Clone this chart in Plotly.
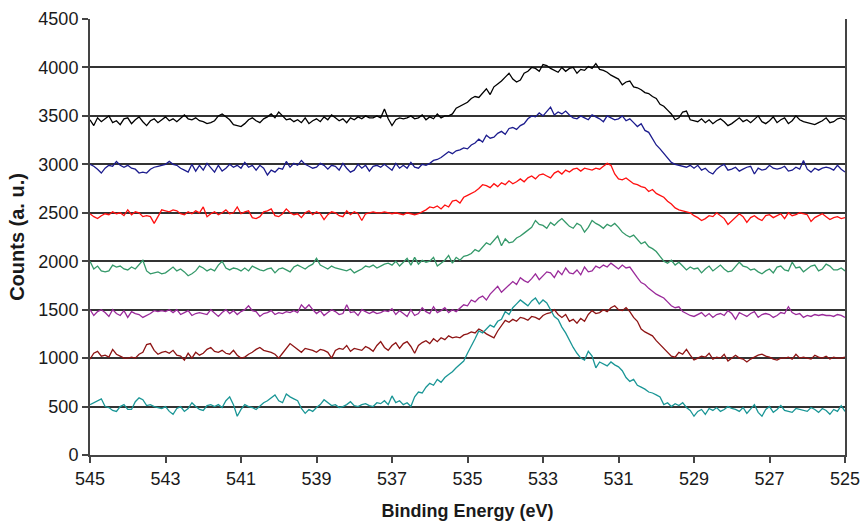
import plotly.graph_objects as go

# Binding energy axis: 545 -> 525 eV in 0.1 eV steps (201 points)
energy = [round(545 - 0.1 * i, 1) for i in range(201)]

s_black = [
    3460,3400,3480,3440,3470,3500,3430,3450,3410,3470,3480,3420,3460,3490,3440,3400,3450,3470,3430,3460,
    3490,3450,3470,3440,3480,3510,3470,3460,3480,3450,3440,3420,3430,3450,3500,3520,3490,3460,3410,3400,
    3390,3420,3460,3480,3450,3430,3470,3490,3520,3480,3540,3500,3460,3470,3440,3460,3430,3480,3420,3450,
    3470,3440,3490,3460,3510,3480,3450,3470,3430,3480,3460,3490,3470,3500,3480,3480,3500,3480,3570,3470,
    3400,3460,3480,3470,3480,3500,3470,3480,3510,3460,3490,3470,3520,3480,3500,3500,3520,3580,3600,3620,
    3640,3680,3700,3690,3740,3780,3720,3800,3830,3860,3900,3940,3880,3850,3870,3940,3960,4000,3990,3960,
    4030,4020,3990,3970,3950,4000,3960,3990,4000,3940,3980,3970,4010,3990,4040,3980,3970,3950,3920,3900,
    3880,3820,3850,3860,3800,3790,3770,3740,3730,3700,3680,3620,3600,3560,3520,3460,3480,3540,3550,3460,
    3450,3440,3470,3430,3460,3420,3450,3470,3440,3400,3420,3450,3480,3440,3460,3430,3470,3500,3440,3420,
    3450,3490,3430,3460,3480,3420,3450,3500,3460,3440,3430,3420,3410,3430,3450,3480,3430,3440,3470,3480,3460,
]

s_blue = [
    3000,2980,2950,2910,2960,2990,2980,3030,2990,2970,2990,2960,2950,2910,2920,2910,2950,2970,2980,2990,
    3000,3030,3000,2990,2960,2940,2920,3000,2930,2990,2940,3010,2960,2920,2990,2930,2960,3000,2970,2990,
    2960,3020,2970,2990,2940,2990,2960,2890,2940,2920,2960,2950,3030,2970,3010,2990,3040,3000,2980,2960,
    2970,3010,2990,2950,2990,2980,2940,3010,2960,2920,2940,3000,2960,2990,2930,2980,2990,2970,3000,2970,
    2940,3010,2960,2990,2960,3020,2970,2960,3000,2990,3010,3040,3050,3070,3100,3130,3110,3140,3150,3170,
    3160,3200,3220,3260,3230,3300,3270,3280,3320,3340,3310,3370,3380,3360,3400,3420,3470,3500,3490,3530,
    3500,3540,3590,3510,3540,3520,3550,3510,3480,3470,3500,3480,3460,3510,3490,3470,3440,3500,3480,3460,
    3470,3500,3450,3470,3430,3390,3420,3350,3330,3270,3200,3160,3110,3060,3020,3000,2990,2980,2970,2990,
    2960,2990,2940,2960,2920,2900,2950,2980,3000,2940,2950,2970,2930,2950,2970,2980,2900,2960,2940,2950,
    2990,2960,2950,2960,2980,2930,2940,2970,2950,3040,2950,2920,2960,2940,2960,2970,2960,2940,2990,2950,2920,
]

s_red = [
    2490,2460,2440,2470,2490,2480,2510,2490,2500,2470,2530,2480,2510,2500,2460,2470,2460,2390,2460,2530,
    2520,2510,2530,2520,2490,2480,2510,2490,2520,2500,2560,2460,2490,2510,2480,2500,2530,2490,2500,2560,
    2490,2510,2520,2450,2440,2460,2510,2520,2540,2470,2460,2490,2540,2500,2480,2490,2450,2500,2520,2480,
    2510,2490,2430,2480,2510,2500,2470,2460,2520,2480,2510,2490,2420,2490,2500,2510,2500,2500,2510,2500,
    2490,2500,2490,2480,2500,2490,2480,2490,2510,2530,2560,2550,2570,2540,2580,2560,2620,2630,2600,2660,
    2680,2700,2720,2750,2790,2780,2760,2800,2770,2810,2790,2830,2800,2820,2850,2820,2860,2880,2850,2890,
    2900,2880,2860,2910,2930,2900,2940,2920,2950,2960,2930,2960,2950,2940,2960,2950,2980,3010,2990,2900,
    2850,2840,2860,2830,2800,2790,2770,2760,2720,2740,2700,2680,2660,2620,2590,2550,2530,2520,2510,2500,
    2470,2450,2420,2440,2470,2460,2500,2470,2440,2380,2420,2450,2490,2460,2400,2450,2470,2440,2420,2470,
    2480,2450,2470,2490,2440,2500,2470,2480,2500,2490,2480,2410,2450,2470,2490,2460,2430,2450,2460,2440,2450,
]

s_green = [
    2000,1920,1950,1900,1890,1900,1960,1940,1950,1920,1910,1940,1920,1960,2010,1900,1870,1880,1890,1870,
    1880,1910,1940,1900,1920,1890,1850,1870,1900,1950,1930,1900,1920,1900,1960,2000,1930,1910,1930,1920,
    1900,1930,1900,1950,1930,1910,1900,1920,1930,1880,1920,1930,1910,1890,1940,1960,1940,1920,1950,1970,
    2030,1960,1940,1920,1950,1930,1920,1910,1900,1920,1880,1900,1920,1950,1940,1960,1930,1950,1970,1980,
    1960,2000,1950,1990,2030,1960,2040,1970,2010,1990,2000,2040,1950,1980,2010,2060,1980,2040,2010,2050,
    2060,2080,2120,2100,2150,2190,2170,2220,2260,2160,2230,2190,2200,2240,2260,2290,2320,2350,2420,2380,
    2370,2340,2400,2370,2410,2440,2400,2360,2340,2390,2370,2300,2350,2420,2390,2370,2340,2380,2360,2390,
    2350,2300,2270,2250,2270,2230,2180,2200,2150,2130,2100,2050,2000,1980,2010,1960,1990,1950,1910,1940,
    1920,1930,1880,1920,1950,1900,1930,1960,1920,1890,1900,1940,1990,1950,1940,1910,1920,1890,1870,1900,
    1920,1880,1940,1950,1910,1900,1990,1930,1940,1890,1920,1950,1960,1900,1920,1970,1950,1910,1910,1930,1900,
]

s_purple = [
    1500,1440,1480,1500,1470,1430,1500,1460,1440,1490,1420,1480,1460,1450,1420,1440,1460,1490,1480,1490,
    1480,1500,1470,1500,1450,1470,1490,1440,1460,1470,1460,1450,1500,1460,1430,1470,1500,1460,1490,1450,
    1480,1500,1540,1490,1480,1430,1460,1470,1490,1450,1470,1460,1480,1470,1490,1470,1550,1510,1550,1500,
    1460,1490,1440,1470,1500,1480,1450,1460,1550,1470,1480,1440,1500,1480,1460,1480,1460,1470,1490,1480,
    1510,1450,1490,1460,1430,1500,1440,1460,1520,1480,1460,1530,1470,1490,1520,1470,1500,1480,1520,1550,
    1540,1600,1580,1620,1640,1600,1660,1700,1740,1680,1720,1760,1790,1760,1830,1800,1780,1820,1870,1810,
    1850,1890,1880,1830,1900,1860,1930,1880,1870,1910,1860,1940,1890,1900,1950,1930,1960,1940,1980,1950,
    1920,1960,1930,1940,1880,1830,1780,1760,1720,1690,1660,1640,1620,1580,1540,1520,1530,1480,1460,1440,
    1430,1450,1470,1430,1460,1420,1450,1460,1440,1490,1460,1400,1470,1450,1430,1460,1480,1420,1450,1460,
    1450,1420,1440,1470,1460,1530,1470,1450,1460,1420,1440,1430,1450,1440,1450,1440,1440,1430,1450,1440,1420,
]

s_darkred = [
    990,1050,1070,1020,1030,1010,1090,1040,1020,1000,1000,1010,1000,1040,1060,1140,1150,1080,1040,1060,
    1070,1050,1080,1030,1020,980,1050,1000,1060,1030,1050,1090,1110,1070,1060,1080,1050,1040,1080,1030,
    1000,1010,1040,1060,1090,1110,1080,1070,1060,1040,1000,1050,1100,1150,1120,1090,1060,1100,1090,1080,
    1060,1090,1080,1060,1000,1080,1100,1090,1130,1070,1100,1090,1080,1120,1100,1070,1130,1170,1110,1080,
    1130,1160,1100,1150,1170,1120,1050,1130,1160,1180,1150,1200,1170,1210,1190,1230,1210,1220,1210,1240,
    1250,1270,1260,1300,1280,1250,1230,1210,1280,1330,1390,1370,1400,1380,1420,1410,1390,1430,1420,1400,
    1440,1460,1470,1500,1450,1420,1450,1380,1400,1360,1410,1380,1450,1490,1460,1470,1500,1480,1520,1540,
    1500,1490,1520,1480,1420,1380,1300,1270,1250,1230,1180,1140,1110,1070,1020,1010,1060,1040,1090,1030,
    980,1000,1020,1010,1050,990,1010,1000,1040,970,1000,1030,1000,990,960,990,1010,1030,1040,1020,
    1010,990,980,1000,1000,1010,990,1040,1000,1010,1000,990,1030,1010,1000,1020,990,1010,1000,1000,1010,
]

s_teal = [
    520,540,560,580,500,490,460,450,500,520,470,470,550,590,570,510,520,500,490,480,
    500,450,420,480,500,450,480,540,500,470,460,510,520,500,520,490,560,600,520,400,
    470,520,500,490,470,510,540,560,590,620,560,540,630,600,580,560,480,430,470,450,
    490,520,570,540,510,520,490,500,520,550,510,500,520,530,510,500,540,530,560,520,
    610,540,560,520,540,500,600,650,640,700,740,720,780,750,800,830,860,900,940,970,
    1050,1120,1200,1280,1260,1300,1340,1320,1380,1400,1480,1450,1520,1560,1600,1570,1540,1590,1620,1560,
    1600,1570,1500,1430,1400,1320,1260,1180,1110,1050,1000,980,1070,1020,900,960,940,920,960,930,
    910,870,800,760,780,720,700,680,650,640,620,600,520,540,500,530,510,540,490,460,
    400,450,470,420,480,460,490,450,470,500,480,470,450,490,430,470,520,440,400,470,
    500,440,470,510,460,450,440,480,470,460,450,490,470,440,480,460,420,470,450,510,450,
]

series = [s_black, s_blue, s_red, s_green, s_purple, s_darkred, s_teal]
colors = ["#000000", "#1c1c8e", "#ff1010", "#35996a", "#9a2a9a", "#8e1414", "#1a9696"]

x_ticks = list(range(545, 524, -2))
y_ticks = list(range(0, 4501, 500))

fig = go.Figure()
for ys, c in zip(series, colors):
    fig.add_trace(go.Scatter(x=energy, y=ys, mode="lines",
                             line=dict(color=c, width=1.3), showlegend=False,
                             hoverinfo="skip"))

font_family = "Liberation Sans, Arial, sans-serif"
fig.update_layout(
    width=864, height=521,
    margin=dict(l=90, r=19, t=19, b=66),
    paper_bgcolor="white", plot_bgcolor="white",
    font=dict(family=font_family, size=18, color="#1a1a1a"),
    xaxis=dict(
        range=[545, 525], tickvals=x_ticks, ticktext=[str(v) for v in x_ticks],
        showgrid=False, zeroline=False, automargin=False,
        showline=True, linecolor="#444444", linewidth=2,
        ticks="outside", ticklen=6, tickwidth=1.5, tickcolor="#444444",
        tickfont=dict(size=18),
        title=dict(text="<b>Binding Energy (eV)</b>", font=dict(size=18), standoff=17),
    ),
    yaxis=dict(
        range=[0, 4500], tickvals=y_ticks,
        showgrid=True, gridcolor="#333333", gridwidth=1.6,
        zeroline=False, automargin=False,
        showline=True, linecolor="#444444", linewidth=2, mirror=True,
        ticks="outside", ticklen=6, tickwidth=1.5, tickcolor="#444444",
        tickfont=dict(size=18),
        title=dict(text="<b>Counts (a. u.)</b>", font=dict(size=20), standoff=8),
    ),
)

fig.write_html("out.html")
